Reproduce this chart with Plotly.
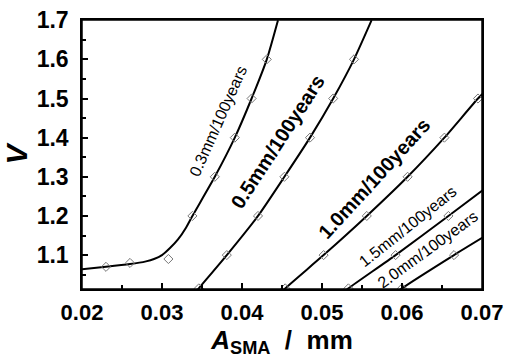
import plotly.graph_objects as go

# Marker data (diamonds)
a03_x = [0.023, 0.026, 0.0308, 0.0338, 0.0366, 0.0391, 0.0412, 0.0431]
v03 = [1.07, 1.08, 1.09, 1.2, 1.3, 1.4, 1.5, 1.6]
a05_x = [0.0346, 0.0381, 0.042, 0.0453, 0.0485, 0.0514, 0.054]
v05 = [1.015, 1.1, 1.2, 1.3, 1.4, 1.5, 1.6]
a10_x = [0.0454, 0.0502, 0.0556, 0.0607, 0.0653, 0.0695]
v10 = [1.015, 1.1, 1.2, 1.3, 1.4, 1.5]
a15_x = [0.0533, 0.0592, 0.0658]
v15 = [1.015, 1.1, 1.2]
a20_x = [0.06, 0.0665]
v20 = [1.015, 1.1]

# Fitted curves
fit03_x = [0.02, 0.023, 0.026, 0.028, 0.029, 0.030, 0.031, 0.032, 0.033, 0.0338, 0.0366, 0.0391, 0.0412, 0.0431, 0.0445]
fit03_v = [1.064, 1.07, 1.077, 1.084, 1.09, 1.10, 1.118, 1.14, 1.17, 1.2, 1.3, 1.4, 1.5, 1.6, 1.7]
fit05_x = [0.034, 0.0346, 0.0381, 0.042, 0.0453, 0.0485, 0.0514, 0.054, 0.0562]
fit05_v = [1.0, 1.015, 1.1, 1.2, 1.3, 1.4, 1.5, 1.6, 1.7]
fit10_x = [0.0447, 0.0454, 0.0502, 0.0556, 0.0607, 0.0653, 0.0695, 0.0705]
fit10_v = [1.0, 1.015, 1.1, 1.2, 1.3, 1.4, 1.5, 1.52]
fit15_x = [0.0524, 0.0533, 0.0592, 0.0658, 0.0705]
fit15_v = [1.0, 1.015, 1.1, 1.2, 1.272]
fit20_x = [0.0591, 0.06, 0.0665, 0.0705]
fit20_v = [1.0, 1.015, 1.1, 1.15]

labels = ["0.3mm/100years", "0.5mm/100years", "1.0mm/100years", "1.5mm/100years", "2.0mm/100years"]
label_x = [0.037, 0.0444, 0.0566, 0.0607, 0.0632]
label_v = [1.441, 1.390, 1.296, 1.174, 1.115]
label_angle = [-66, -57, -47.6, -38.5, -36]
label_size = [16, 20, 20, 16, 16]
label_bold = [False, True, True, False, False]

x_ticks = [0.02, 0.03, 0.04, 0.05, 0.06, 0.07]
y_ticks = [1.1, 1.2, 1.3, 1.4, 1.5, 1.6, 1.7]

fig = go.Figure()
for fx, fv in [(fit03_x, fit03_v), (fit05_x, fit05_v), (fit10_x, fit10_v), (fit15_x, fit15_v), (fit20_x, fit20_v)]:
    fig.add_trace(go.Scatter(x=fx, y=fv, mode="lines", line=dict(color="black", width=2, shape="spline", smoothing=0.6),
                             showlegend=False, hoverinfo="skip"))
for mx, mv in [(a03_x, v03), (a05_x, v05), (a10_x, v10), (a15_x, v15), (a20_x, v20)]:
    fig.add_trace(go.Scatter(x=mx, y=mv, mode="markers",
                             marker=dict(symbol="diamond-open", size=7, color="#777777", line=dict(width=1)),
                             showlegend=False))

for t, lx, lv, ang, sz, b in zip(labels, label_x, label_v, label_angle, label_size, label_bold):
    fig.add_annotation(x=lx, y=lv, text=t, showarrow=False, textangle=ang,
                       font=dict(family="Liberation Sans, Arial", size=sz, color="black",
                                 weight="bold" if b else "normal"))

# plot frame
fig.add_shape(type="rect", xref="paper", yref="paper", x0=0, x1=1, y0=0, y1=1,
              line=dict(color="black", width=1.5), layer="above")

fig.update_xaxes(range=[0.02, 0.07], tickvals=x_ticks, ticktext=[f"{v:.2f}" for v in x_ticks],
                 ticks="inside", ticklen=6, tickwidth=1.5, tickcolor="black",
                 minor=dict(dtick=0.005, tick0=0.02, ticks="inside", ticklen=4, tickcolor="black", tickwidth=1.5),
                 showline=True, linecolor="black", linewidth=1.5, mirror=True, showgrid=False, zeroline=False,
                 tickfont=dict(family="Liberation Sans, Arial", size=22, color="black", weight="bold"),
                 ticklabelstandoff=3, automargin=False,
                 title=dict(text="<i>A</i><sub>SMA</sub>&nbsp;&nbsp;/&nbsp;&nbsp;mm", standoff=4,
                            font=dict(family="Liberation Sans, Arial", size=26, color="black", weight="bold")))
fig.update_yaxes(range=[1.0134, 1.7005], tickvals=y_ticks, ticktext=[f"{v:.1f}" for v in y_ticks],
                 ticks="inside", ticklen=6, tickwidth=1.5, tickcolor="black",
                 minor=dict(dtick=0.05, tick0=1.0, ticks="inside", ticklen=4, tickcolor="black", tickwidth=1.5),
                 showline=True, linecolor="black", linewidth=1.5, mirror=True, showgrid=False, zeroline=False,
                 tickfont=dict(family="Liberation Sans, Arial", size=23, color="black", weight="bold"),
                 ticklabelstandoff=7, automargin=False,
                 title=dict(text="<i>V</i>", standoff=3,
                            font=dict(family="Liberation Sans, Arial", size=30, color="black", weight="bold")))
fig.update_layout(width=513, height=358, margin=dict(l=82, r=31, t=20, b=69, autoexpand=False),
                  plot_bgcolor="white", paper_bgcolor="white")
fig.write_html("out.html", config={"displayModeBar": False},
               post_script="document.body.style.margin='0';document.body.style.overflow='hidden';")
